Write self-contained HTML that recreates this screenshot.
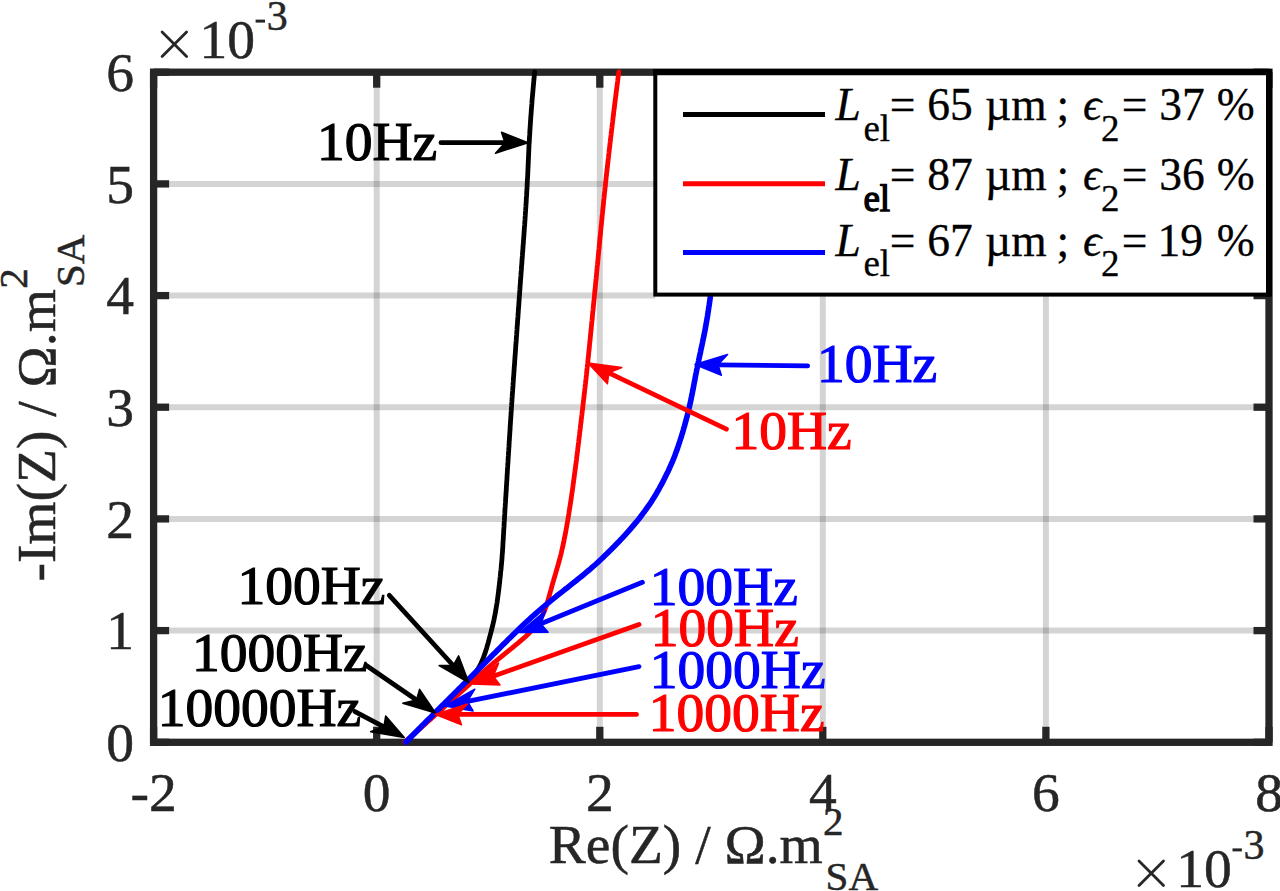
<!DOCTYPE html>
<html><head><meta charset="utf-8"><style>
html,body{margin:0;padding:0;background:#fff;width:1280px;height:891px;overflow:hidden}
svg{display:block}
text{font-family:"Liberation Serif",serif}
</style></head><body>
<svg width="1280" height="891" viewBox="0 0 1280 891"><rect width="100%" height="100%" fill="#fff"/><line x1="376.7" y1="72.2" x2="376.7" y2="742.3" stroke="#262626" stroke-width="6" stroke-opacity="0.2"/><line x1="599.8" y1="72.2" x2="599.8" y2="742.3" stroke="#262626" stroke-width="6" stroke-opacity="0.2"/><line x1="822.8" y1="72.2" x2="822.8" y2="742.3" stroke="#262626" stroke-width="6" stroke-opacity="0.2"/><line x1="1045.9" y1="72.2" x2="1045.9" y2="742.3" stroke="#262626" stroke-width="6" stroke-opacity="0.2"/><line x1="153.6" y1="630.6" x2="1269.0" y2="630.6" stroke="#262626" stroke-width="6" stroke-opacity="0.2"/><line x1="153.6" y1="518.9" x2="1269.0" y2="518.9" stroke="#262626" stroke-width="6" stroke-opacity="0.2"/><line x1="153.6" y1="407.2" x2="1269.0" y2="407.2" stroke="#262626" stroke-width="6" stroke-opacity="0.2"/><line x1="153.6" y1="295.6" x2="655.3" y2="295.6" stroke="#262626" stroke-width="6" stroke-opacity="0.2"/><line x1="153.6" y1="183.9" x2="1269.0" y2="183.9" stroke="#262626" stroke-width="6" stroke-opacity="0.2"/><line x1="153.6" y1="742.3" x2="153.6" y2="726.8" stroke="#262626" stroke-width="7.3"/><line x1="153.6" y1="72.2" x2="153.6" y2="87.7" stroke="#262626" stroke-width="7.3"/><line x1="376.7" y1="742.3" x2="376.7" y2="726.8" stroke="#262626" stroke-width="7.3"/><line x1="376.7" y1="72.2" x2="376.7" y2="87.7" stroke="#262626" stroke-width="7.3"/><line x1="599.8" y1="742.3" x2="599.8" y2="726.8" stroke="#262626" stroke-width="7.3"/><line x1="599.8" y1="72.2" x2="599.8" y2="87.7" stroke="#262626" stroke-width="7.3"/><line x1="822.8" y1="742.3" x2="822.8" y2="726.8" stroke="#262626" stroke-width="7.3"/><line x1="822.8" y1="72.2" x2="822.8" y2="87.7" stroke="#262626" stroke-width="7.3"/><line x1="1045.9" y1="742.3" x2="1045.9" y2="726.8" stroke="#262626" stroke-width="7.3"/><line x1="1045.9" y1="72.2" x2="1045.9" y2="87.7" stroke="#262626" stroke-width="7.3"/><line x1="1269.0" y1="742.3" x2="1269.0" y2="726.8" stroke="#262626" stroke-width="7.3"/><line x1="1269.0" y1="72.2" x2="1269.0" y2="87.7" stroke="#262626" stroke-width="7.3"/><line x1="153.6" y1="742.3" x2="169.1" y2="742.3" stroke="#262626" stroke-width="7.3"/><line x1="1269.0" y1="742.3" x2="1253.5" y2="742.3" stroke="#262626" stroke-width="7.3"/><line x1="153.6" y1="630.6" x2="169.1" y2="630.6" stroke="#262626" stroke-width="7.3"/><line x1="1269.0" y1="630.6" x2="1253.5" y2="630.6" stroke="#262626" stroke-width="7.3"/><line x1="153.6" y1="518.9" x2="169.1" y2="518.9" stroke="#262626" stroke-width="7.3"/><line x1="1269.0" y1="518.9" x2="1253.5" y2="518.9" stroke="#262626" stroke-width="7.3"/><line x1="153.6" y1="407.2" x2="169.1" y2="407.2" stroke="#262626" stroke-width="7.3"/><line x1="1269.0" y1="407.2" x2="1253.5" y2="407.2" stroke="#262626" stroke-width="7.3"/><line x1="153.6" y1="295.6" x2="169.1" y2="295.6" stroke="#262626" stroke-width="7.3"/><line x1="1269.0" y1="295.6" x2="1253.5" y2="295.6" stroke="#262626" stroke-width="7.3"/><line x1="153.6" y1="183.9" x2="169.1" y2="183.9" stroke="#262626" stroke-width="7.3"/><line x1="1269.0" y1="183.9" x2="1253.5" y2="183.9" stroke="#262626" stroke-width="7.3"/><line x1="153.6" y1="72.2" x2="169.1" y2="72.2" stroke="#262626" stroke-width="7.3"/><line x1="1269.0" y1="72.2" x2="1253.5" y2="72.2" stroke="#262626" stroke-width="7.3"/><rect x="153.6" y="72.2" width="1115.4" height="670.1" fill="none" stroke="#262626" stroke-width="7.3"/><path d="M406.0,742.0 L408.3,739.8 L410.6,737.5 L412.8,735.3 L415.1,733.0 L417.4,730.8 L419.7,728.6 L421.9,726.3 L424.2,724.1 L426.5,721.8 L428.8,719.6 L431.0,717.4 L433.3,715.1 L435.6,712.9 L437.9,710.6 L440.2,708.4 L442.6,706.1 L444.9,703.9 L447.3,701.7 L449.7,699.4 L452.1,697.2 L454.5,694.9 L456.9,692.7 L459.3,690.5 L461.6,688.2 L463.9,686.0 L466.1,683.7 L468.3,681.5 L470.3,679.3 L472.2,677.0 L473.9,674.8 L475.6,672.5 L477.1,670.3 L478.5,668.1 L479.8,665.8 L480.9,663.6 L481.9,661.3 L482.9,659.1 L483.7,656.8 L484.5,654.6 L485.3,652.4 L486.0,650.1 L486.7,647.9 L487.3,645.6 L488.0,643.4 L488.6,641.2 L489.2,638.9 L489.8,636.7 L490.4,634.4 L491.0,632.2 L491.6,630.0 L492.1,627.7 L492.7,625.5 L493.2,623.2 L493.7,621.0 L494.2,618.8 L494.6,616.5 L495.1,614.3 L495.5,612.0 L495.9,609.8 L496.2,607.6 L496.6,605.3 L497.0,603.1 L497.3,600.8 L497.6,598.6 L497.9,596.3 L498.2,594.1 L498.5,591.9 L498.8,589.6 L499.0,587.4 L499.3,585.1 L499.6,582.9 L499.8,580.7 L500.0,578.4 L500.3,576.2 L500.5,573.9 L500.7,571.7 L501.0,569.5 L501.2,567.2 L501.4,565.0 L501.6,562.7 L501.8,560.5 L502.0,558.3 L502.1,556.0 L502.3,553.8 L502.5,551.5 L502.6,549.3 L502.8,547.1 L502.9,544.8 L503.0,542.6 L503.2,540.3 L503.3,538.1 L503.4,535.8 L503.6,533.6 L503.7,531.4 L503.8,529.1 L504.0,526.9 L504.1,524.6 L504.2,522.4 L504.4,520.2 L504.5,517.9 L504.6,515.7 L504.8,513.4 L504.9,511.2 L505.0,509.0 L505.2,506.7 L505.3,504.5 L505.5,502.2 L505.6,500.0 L505.7,497.8 L505.9,495.5 L506.0,493.3 L506.2,491.0 L506.3,488.8 L506.4,486.5 L506.6,484.3 L506.7,482.1 L506.9,479.8 L507.0,477.6 L507.1,475.3 L507.3,473.1 L507.4,470.9 L507.5,468.6 L507.7,466.4 L507.8,464.1 L508.0,461.9 L508.1,459.7 L508.2,457.4 L508.4,455.2 L508.5,452.9 L508.7,450.7 L508.8,448.5 L509.0,446.2 L509.1,444.0 L509.2,441.7 L509.4,439.5 L509.5,437.3 L509.7,435.0 L509.8,432.8 L510.0,430.5 L510.1,428.3 L510.2,426.0 L510.4,423.8 L510.5,421.6 L510.7,419.3 L510.8,417.1 L511.0,414.8 L511.1,412.6 L511.3,410.4 L511.4,408.1 L511.6,405.9 L511.7,403.6 L511.9,401.4 L512.0,399.2 L512.2,396.9 L512.3,394.7 L512.5,392.4 L512.7,390.2 L512.8,388.0 L513.0,385.7 L513.1,383.5 L513.3,381.2 L513.4,379.0 L513.6,376.7 L513.8,374.5 L513.9,372.3 L514.1,370.0 L514.2,367.8 L514.4,365.5 L514.6,363.3 L514.7,361.1 L514.9,358.8 L515.0,356.6 L515.2,354.3 L515.4,352.1 L515.5,349.9 L515.7,347.6 L515.8,345.4 L516.0,343.1 L516.2,340.9 L516.3,338.7 L516.5,336.4 L516.7,334.2 L516.8,331.9 L517.0,329.7 L517.1,327.5 L517.3,325.2 L517.5,323.0 L517.6,320.7 L517.8,318.5 L518.0,316.2 L518.1,314.0 L518.3,311.8 L518.4,309.5 L518.6,307.3 L518.8,305.0 L518.9,302.8 L519.1,300.6 L519.2,298.3 L519.4,296.1 L519.6,293.8 L519.7,291.6 L519.9,289.4 L520.0,287.1 L520.2,284.9 L520.4,282.6 L520.5,280.4 L520.7,278.2 L520.9,275.9 L521.0,273.7 L521.2,271.4 L521.4,269.2 L521.5,266.9 L521.7,264.7 L521.9,262.5 L522.0,260.2 L522.2,258.0 L522.4,255.7 L522.5,253.5 L522.7,251.3 L522.9,249.0 L523.0,246.8 L523.2,244.5 L523.4,242.3 L523.5,240.1 L523.7,237.8 L523.9,235.6 L524.0,233.3 L524.2,231.1 L524.3,228.9 L524.5,226.6 L524.7,224.4 L524.8,222.1 L525.0,219.9 L525.1,217.7 L525.3,215.4 L525.4,213.2 L525.6,210.9 L525.7,208.7 L525.9,206.4 L526.0,204.2 L526.2,202.0 L526.3,199.7 L526.4,197.5 L526.6,195.2 L526.7,193.0 L526.8,190.8 L527.0,188.5 L527.1,186.3 L527.2,184.0 L527.3,181.8 L527.4,179.6 L527.6,177.3 L527.7,175.1 L527.8,172.8 L527.9,170.6 L528.0,168.4 L528.1,166.1 L528.2,163.9 L528.3,161.6 L528.4,159.4 L528.5,157.2 L528.6,154.9 L528.7,152.7 L528.8,150.4 L528.9,148.2 L529.0,145.9 L529.1,143.7 L529.3,141.5 L529.4,139.2 L529.5,137.0 L529.7,134.7 L529.8,132.5 L529.9,130.3 L530.1,128.0 L530.2,125.8 L530.4,123.5 L530.5,121.3 L530.7,119.1 L530.8,116.8 L531.0,114.6 L531.2,112.3 L531.3,110.1 L531.5,107.9 L531.7,105.6 L531.9,103.4 L532.0,101.1 L532.2,98.9 L532.4,96.6 L532.6,94.4 L532.8,92.2 L533.0,89.9 L533.2,87.7 L533.4,85.4 L533.6,83.2 L533.8,81.0 L534.0,78.7 L534.2,76.5 L534.4,74.2 L534.6,72.0" fill="none" stroke="#000" stroke-width="4.8" stroke-linejoin="round" stroke-linecap="round"/><path d="M405.0,742.0 L407.5,739.8 L410.0,737.5 L412.6,735.3 L415.1,733.0 L417.6,730.8 L420.1,728.6 L422.6,726.3 L425.1,724.1 L427.6,721.8 L430.1,719.6 L432.6,717.4 L435.1,715.1 L437.6,712.9 L440.2,710.6 L442.7,708.4 L445.2,706.1 L447.6,703.9 L450.1,701.7 L452.6,699.4 L455.1,697.2 L457.6,694.9 L460.1,692.7 L462.6,690.5 L465.1,688.2 L467.6,686.0 L470.0,683.7 L472.5,681.5 L475.0,679.3 L477.5,677.0 L480.0,674.8 L482.5,672.5 L485.1,670.3 L487.7,668.1 L490.3,665.8 L492.9,663.6 L495.6,661.3 L498.3,659.1 L501.1,656.8 L503.8,654.6 L506.6,652.4 L509.4,650.1 L512.2,647.9 L514.9,645.6 L517.7,643.4 L520.3,641.2 L522.9,638.9 L525.4,636.7 L527.8,634.4 L530.1,632.2 L532.2,630.0 L534.1,627.7 L536.0,625.5 L537.7,623.2 L539.2,621.0 L540.6,618.8 L541.8,616.5 L543.0,614.3 L544.0,612.0 L544.9,609.8 L545.7,607.6 L546.5,605.3 L547.2,603.1 L547.9,600.8 L548.5,598.6 L549.1,596.3 L549.7,594.1 L550.3,591.9 L551.0,589.6 L551.6,587.4 L552.2,585.1 L552.8,582.9 L553.5,580.7 L554.1,578.4 L554.8,576.2 L555.5,573.9 L556.1,571.7 L556.8,569.5 L557.4,567.2 L558.1,565.0 L558.7,562.7 L559.3,560.5 L559.9,558.3 L560.5,556.0 L561.1,553.8 L561.6,551.5 L562.1,549.3 L562.6,547.1 L563.1,544.8 L563.6,542.6 L564.0,540.3 L564.5,538.1 L564.9,535.8 L565.4,533.6 L565.8,531.4 L566.2,529.1 L566.6,526.9 L567.0,524.6 L567.4,522.4 L567.8,520.2 L568.1,517.9 L568.5,515.7 L568.9,513.4 L569.2,511.2 L569.6,509.0 L569.9,506.7 L570.3,504.5 L570.6,502.2 L571.0,500.0 L571.3,497.8 L571.6,495.5 L571.9,493.3 L572.3,491.0 L572.6,488.8 L572.9,486.5 L573.2,484.3 L573.5,482.1 L573.8,479.8 L574.1,477.6 L574.4,475.3 L574.7,473.1 L575.0,470.9 L575.3,468.6 L575.6,466.4 L575.9,464.1 L576.2,461.9 L576.5,459.7 L576.7,457.4 L577.0,455.2 L577.3,452.9 L577.6,450.7 L577.8,448.5 L578.1,446.2 L578.4,444.0 L578.7,441.7 L578.9,439.5 L579.2,437.3 L579.5,435.0 L579.7,432.8 L580.0,430.5 L580.3,428.3 L580.5,426.0 L580.8,423.8 L581.1,421.6 L581.3,419.3 L581.6,417.1 L581.9,414.8 L582.1,412.6 L582.4,410.4 L582.7,408.1 L582.9,405.9 L583.2,403.6 L583.4,401.4 L583.7,399.2 L584.0,396.9 L584.2,394.7 L584.5,392.4 L584.7,390.2 L585.0,388.0 L585.2,385.7 L585.5,383.5 L585.7,381.2 L586.0,379.0 L586.2,376.7 L586.5,374.5 L586.7,372.3 L586.9,370.0 L587.2,367.8 L587.4,365.5 L587.7,363.3 L587.9,361.1 L588.1,358.8 L588.4,356.6 L588.6,354.3 L588.8,352.1 L589.1,349.9 L589.3,347.6 L589.5,345.4 L589.7,343.1 L590.0,340.9 L590.2,338.7 L590.4,336.4 L590.6,334.2 L590.9,331.9 L591.1,329.7 L591.3,327.5 L591.5,325.2 L591.7,323.0 L592.0,320.7 L592.2,318.5 L592.4,316.2 L592.6,314.0 L592.8,311.8 L593.1,309.5 L593.3,307.3 L593.5,305.0 L593.7,302.8 L594.0,300.6 L594.2,298.3 L594.4,296.1 L594.6,293.8 L594.8,291.6 L595.1,289.4 L595.3,287.1 L595.5,284.9 L595.7,282.6 L595.9,280.4 L596.2,278.2 L596.4,275.9 L596.6,273.7 L596.8,271.4 L597.0,269.2 L597.2,266.9 L597.5,264.7 L597.7,262.5 L597.9,260.2 L598.1,258.0 L598.3,255.7 L598.5,253.5 L598.7,251.3 L599.0,249.0 L599.2,246.8 L599.4,244.5 L599.6,242.3 L599.8,240.1 L600.0,237.8 L600.3,235.6 L600.5,233.3 L600.7,231.1 L600.9,228.9 L601.1,226.6 L601.4,224.4 L601.6,222.1 L601.8,219.9 L602.0,217.7 L602.2,215.4 L602.5,213.2 L602.7,210.9 L602.9,208.7 L603.2,206.4 L603.4,204.2 L603.6,202.0 L603.8,199.7 L604.1,197.5 L604.3,195.2 L604.5,193.0 L604.8,190.8 L605.0,188.5 L605.3,186.3 L605.5,184.0 L605.7,181.8 L606.0,179.6 L606.2,177.3 L606.5,175.1 L606.7,172.8 L607.0,170.6 L607.2,168.4 L607.5,166.1 L607.7,163.9 L608.0,161.6 L608.2,159.4 L608.5,157.2 L608.7,154.9 L609.0,152.7 L609.2,150.4 L609.5,148.2 L609.8,145.9 L610.0,143.7 L610.3,141.5 L610.5,139.2 L610.8,137.0 L611.1,134.7 L611.3,132.5 L611.6,130.3 L611.9,128.0 L612.1,125.8 L612.4,123.5 L612.7,121.3 L612.9,119.1 L613.2,116.8 L613.5,114.6 L613.7,112.3 L614.0,110.1 L614.3,107.9 L614.6,105.6 L614.8,103.4 L615.1,101.1 L615.4,98.9 L615.7,96.6 L616.0,94.4 L616.2,92.2 L616.5,89.9 L616.8,87.7 L617.1,85.4 L617.4,83.2 L617.7,81.0 L617.9,78.7 L618.2,76.5 L618.5,74.2 L618.8,72.0" fill="none" stroke="#ff0000" stroke-width="4.8" stroke-linejoin="round" stroke-linecap="round"/><path d="M406.0,742.0 L408.2,739.8 L410.4,737.5 L412.6,735.3 L414.9,733.0 L417.1,730.8 L419.3,728.6 L421.5,726.3 L423.8,724.1 L426.0,721.8 L428.2,719.6 L430.5,717.4 L432.7,715.1 L434.9,712.9 L437.2,710.6 L439.4,708.4 L441.6,706.1 L443.9,703.9 L446.1,701.7 L448.4,699.4 L450.6,697.2 L452.9,694.9 L455.1,692.7 L457.4,690.5 L459.6,688.2 L461.9,686.0 L464.1,683.7 L466.4,681.5 L468.6,679.3 L470.9,677.0 L473.1,674.8 L475.4,672.5 L477.6,670.3 L479.8,668.1 L482.1,665.8 L484.3,663.6 L486.5,661.3 L488.8,659.1 L491.0,656.8 L493.2,654.6 L495.4,652.4 L497.7,650.1 L499.9,647.9 L502.1,645.6 L504.3,643.4 L506.6,641.2 L508.8,638.9 L511.1,636.7 L513.4,634.4 L515.7,632.2 L518.0,630.0 L520.3,627.7 L522.6,625.5 L525.0,623.2 L527.4,621.0 L529.9,618.8 L532.3,616.5 L534.8,614.3 L537.4,612.0 L540.0,609.8 L542.6,607.6 L545.3,605.3 L548.0,603.1 L550.7,600.8 L553.5,598.6 L556.3,596.3 L559.2,594.1 L562.0,591.9 L564.8,589.6 L567.7,587.4 L570.5,585.1 L573.3,582.9 L576.1,580.7 L578.9,578.4 L581.7,576.2 L584.5,573.9 L587.1,571.7 L589.8,569.5 L592.4,567.2 L594.9,565.0 L597.4,562.7 L599.8,560.5 L602.2,558.3 L604.5,556.0 L606.8,553.8 L609.1,551.5 L611.4,549.3 L613.6,547.1 L615.8,544.8 L618.0,542.6 L620.1,540.3 L622.2,538.1 L624.3,535.8 L626.3,533.6 L628.3,531.4 L630.3,529.1 L632.2,526.9 L634.1,524.6 L636.0,522.4 L637.8,520.2 L639.6,517.9 L641.3,515.7 L643.0,513.4 L644.7,511.2 L646.3,509.0 L647.9,506.7 L649.5,504.5 L651.0,502.2 L652.4,500.0 L653.8,497.8 L655.2,495.5 L656.5,493.3 L657.8,491.0 L659.1,488.8 L660.3,486.5 L661.5,484.3 L662.7,482.1 L663.9,479.8 L665.0,477.6 L666.1,475.3 L667.2,473.1 L668.3,470.9 L669.3,468.6 L670.3,466.4 L671.3,464.1 L672.3,461.9 L673.2,459.7 L674.1,457.4 L675.0,455.2 L675.8,452.9 L676.6,450.7 L677.4,448.5 L678.2,446.2 L678.9,444.0 L679.7,441.7 L680.4,439.5 L681.1,437.3 L681.8,435.0 L682.5,432.8 L683.2,430.5 L683.8,428.3 L684.5,426.0 L685.1,423.8 L685.7,421.6 L686.3,419.3 L686.9,417.1 L687.5,414.8 L688.1,412.6 L688.6,410.4 L689.1,408.1 L689.6,405.9 L690.1,403.6 L690.6,401.4 L691.1,399.2 L691.5,396.9 L692.0,394.7 L692.4,392.4 L692.9,390.2 L693.3,388.0 L693.7,385.7 L694.1,383.5 L694.6,381.2 L695.0,379.0 L695.4,376.7 L695.8,374.5 L696.3,372.3 L696.7,370.0 L697.2,367.8 L697.6,365.5 L698.1,363.3 L698.6,361.1 L699.0,358.8 L699.5,356.6 L700.0,354.3 L700.5,352.1 L700.9,349.9 L701.4,347.6 L701.9,345.4 L702.4,343.1 L702.8,340.9 L703.3,338.7 L703.8,336.4 L704.2,334.2 L704.7,331.9 L705.1,329.7 L705.5,327.5 L705.9,325.2 L706.3,323.0 L706.7,320.7 L707.1,318.5 L707.5,316.2 L707.8,314.0 L708.2,311.8 L708.5,309.5 L708.8,307.3 L709.2,305.0 L709.5,302.8 L709.8,300.6 L710.1,298.3 L710.4,296.1 L710.7,293.8 L710.9,291.6 L711.2,289.4 L711.5,287.1 L711.8,284.9 L712.0,282.6 L712.3,280.4 L712.5,278.2 L712.8,275.9 L713.0,273.7 L713.2,271.4 L713.5,269.2 L713.7,266.9 L714.0,264.7 L714.2,262.5 L714.4,260.2 L714.6,258.0 L714.8,255.7 L715.1,253.5 L715.3,251.3 L715.5,249.0 L715.7,246.8 L715.9,244.5 L716.1,242.3 L716.3,240.1 L716.5,237.8 L716.8,235.6 L717.0,233.3 L717.2,231.1 L717.4,228.9 L717.6,226.6 L717.8,224.4 L718.0,222.1 L718.2,219.9 L718.4,217.7 L718.6,215.4 L718.8,213.2 L719.0,210.9 L719.2,208.7 L719.4,206.4 L719.6,204.2 L719.9,202.0 L720.1,199.7 L720.3,197.5 L720.5,195.2 L720.7,193.0 L720.9,190.8 L721.2,188.5 L721.4,186.3 L721.6,184.0 L721.8,181.8 L722.1,179.6 L722.3,177.3 L722.5,175.1 L722.8,172.8 L723.0,170.6 L723.2,168.4 L723.5,166.1 L723.7,163.9 L724.0,161.6 L724.2,159.4 L724.4,157.2 L724.7,154.9 L724.9,152.7 L725.2,150.4 L725.4,148.2 L725.7,145.9 L725.9,143.7 L726.1,141.5 L726.4,139.2 L726.6,137.0 L726.9,134.7 L727.1,132.5 L727.4,130.3 L727.6,128.0 L727.9,125.8 L728.1,123.5 L728.4,121.3 L728.6,119.1 L728.9,116.8 L729.1,114.6 L729.4,112.3 L729.6,110.1 L729.9,107.9 L730.1,105.6 L730.4,103.4 L730.6,101.1 L730.9,98.9 L731.2,96.6 L731.4,94.4 L731.7,92.2 L731.9,89.9 L732.2,87.7 L732.4,85.4 L732.7,83.2 L733.0,81.0 L733.2,78.7 L733.5,76.5 L733.7,74.2 L734.0,72.0" fill="none" stroke="#0000ff" stroke-width="5.6" stroke-linejoin="round" stroke-linecap="round"/><rect x="655.3" y="71.0" width="613.7" height="223.6" fill="#fff" stroke="#000" stroke-width="4"/><line x1="653.3" y1="72.2" x2="1272.0" y2="72.2" stroke="#000" stroke-width="6"/><line x1="1269.0" y1="72.2" x2="1269.0" y2="296.6" stroke="#000" stroke-width="6"/><line x1="683.0" y1="114.5" x2="825.0" y2="114.5" stroke="#000" stroke-width="5"/><line x1="683.0" y1="183.7" x2="825.0" y2="183.7" stroke="#ff0000" stroke-width="5"/><line x1="683.0" y1="252.4" x2="825.0" y2="252.4" stroke="#0000ff" stroke-width="5"/><text x="835.6" y="120.2" font-size="45.5" fill="#000" stroke="#000" stroke-width="0.3" text-anchor="start" font-style="italic">L</text><text x="863.4" y="141.0" font-size="37" fill="#000" stroke="#000" stroke-width="0.3" text-anchor="start" >el</text><text x="889.7" y="120.2" font-size="45.5" fill="#000" stroke="#000" stroke-width="0.3" text-anchor="start" >=</text><text x="927.3" y="120.2" font-size="45.5" fill="#000" stroke="#000" stroke-width="0.3" text-anchor="start" >65</text><text x="985.0" y="120.2" font-size="45.5" fill="#000" stroke="#000" stroke-width="0.3" text-anchor="start" >µm</text><text x="1056.5" y="120.2" font-size="45.5" fill="#000" stroke="#000" stroke-width="0.3" text-anchor="start" >;</text><text x="1083.1" y="120.2" font-size="45.5" fill="#000" stroke="#000" stroke-width="0.3" text-anchor="start" font-style="italic">ϵ</text><text x="1100.9" y="141.0" font-size="37" fill="#000" stroke="#000" stroke-width="0.3" text-anchor="start" >2</text><text x="1121.8" y="120.2" font-size="45.5" fill="#000" stroke="#000" stroke-width="0.3" text-anchor="start" >=</text><text x="1159.3" y="120.2" font-size="45.5" fill="#000" stroke="#000" stroke-width="0.3" text-anchor="start" >37</text><text x="1216.8" y="120.2" font-size="45.5" fill="#000" stroke="#000" stroke-width="0.3" text-anchor="start" >%</text><text x="835.6" y="189.9" font-size="45.5" fill="#000" stroke="#000" stroke-width="0.3" text-anchor="start" font-style="italic">L</text><text x="863.4" y="210.7" font-size="37" fill="#000" stroke="#000" stroke-width="1.3" text-anchor="start" >el</text><text x="889.7" y="189.9" font-size="45.5" fill="#000" stroke="#000" stroke-width="0.3" text-anchor="start" >=</text><text x="927.3" y="189.9" font-size="45.5" fill="#000" stroke="#000" stroke-width="0.3" text-anchor="start" >87</text><text x="985.0" y="189.9" font-size="45.5" fill="#000" stroke="#000" stroke-width="0.3" text-anchor="start" >µm</text><text x="1056.5" y="189.9" font-size="45.5" fill="#000" stroke="#000" stroke-width="0.3" text-anchor="start" >;</text><text x="1083.1" y="189.9" font-size="45.5" fill="#000" stroke="#000" stroke-width="0.3" text-anchor="start" font-style="italic">ϵ</text><text x="1100.9" y="210.7" font-size="37" fill="#000" stroke="#000" stroke-width="0.3" text-anchor="start" >2</text><text x="1121.8" y="189.9" font-size="45.5" fill="#000" stroke="#000" stroke-width="0.3" text-anchor="start" >=</text><text x="1159.3" y="189.9" font-size="45.5" fill="#000" stroke="#000" stroke-width="0.3" text-anchor="start" >36</text><text x="1216.8" y="189.9" font-size="45.5" fill="#000" stroke="#000" stroke-width="0.3" text-anchor="start" >%</text><text x="835.6" y="255.6" font-size="45.5" fill="#000" stroke="#000" stroke-width="0.3" text-anchor="start" font-style="italic">L</text><text x="863.4" y="276.4" font-size="37" fill="#000" stroke="#000" stroke-width="0.3" text-anchor="start" >el</text><text x="889.7" y="255.6" font-size="45.5" fill="#000" stroke="#000" stroke-width="0.3" text-anchor="start" >=</text><text x="927.3" y="255.6" font-size="45.5" fill="#000" stroke="#000" stroke-width="0.3" text-anchor="start" >67</text><text x="985.0" y="255.6" font-size="45.5" fill="#000" stroke="#000" stroke-width="0.3" text-anchor="start" >µm</text><text x="1056.5" y="255.6" font-size="45.5" fill="#000" stroke="#000" stroke-width="0.3" text-anchor="start" >;</text><text x="1083.1" y="255.6" font-size="45.5" fill="#000" stroke="#000" stroke-width="0.3" text-anchor="start" font-style="italic">ϵ</text><text x="1100.9" y="276.4" font-size="37" fill="#000" stroke="#000" stroke-width="0.3" text-anchor="start" >2</text><text x="1121.8" y="255.6" font-size="45.5" fill="#000" stroke="#000" stroke-width="0.3" text-anchor="start" >=</text><text x="1157.5" y="255.6" font-size="45.5" fill="#000" stroke="#000" stroke-width="0.3" text-anchor="start" >19</text><text x="1216.8" y="255.6" font-size="45.5" fill="#000" stroke="#000" stroke-width="0.3" text-anchor="start" >%</text><line x1="441.0" y1="142.7" x2="505.0" y2="142.7" stroke="#000" stroke-width="4.8" stroke-linecap="round"/><polygon points="528.0,142.7 495.5,153.2 505.0,142.7 501.5,132.2" fill="#000" stroke="#000" stroke-width="1.5" stroke-linejoin="round"/><line x1="726.4" y1="429.2" x2="608.8" y2="372.8" stroke="#ff0000" stroke-width="4.8" stroke-linecap="round"/><polygon points="588.0,362.9 621.8,367.5 608.8,372.8 607.4,383.8" fill="#ff0000" stroke="#ff0000" stroke-width="1.5" stroke-linejoin="round"/><line x1="807.6" y1="365.9" x2="718.0" y2="364.8" stroke="#0000ff" stroke-width="4.8" stroke-linecap="round"/><polygon points="695.0,364.5 727.6,354.4 718.0,364.8 721.4,375.3" fill="#0000ff" stroke="#0000ff" stroke-width="1.5" stroke-linejoin="round"/><line x1="389.3" y1="595.3" x2="453.2" y2="665.5" stroke="#000" stroke-width="4.8" stroke-linecap="round"/><polygon points="468.7,682.5 439.1,665.5 453.2,665.5 458.6,655.8" fill="#000" stroke="#000" stroke-width="1.5" stroke-linejoin="round"/><line x1="366.0" y1="665.3" x2="416.5" y2="700.0" stroke="#000" stroke-width="4.8" stroke-linecap="round"/><polygon points="435.5,713.0 402.8,703.3 416.5,700.0 419.6,689.3" fill="#000" stroke="#000" stroke-width="1.5" stroke-linejoin="round"/><line x1="355.0" y1="711.6" x2="383.9" y2="726.8" stroke="#000" stroke-width="4.8" stroke-linecap="round"/><polygon points="404.3,737.5 370.6,731.7 383.9,726.8 385.7,715.9" fill="#000" stroke="#000" stroke-width="1.5" stroke-linejoin="round"/><line x1="642.4" y1="582.3" x2="540.9" y2="623.8" stroke="#0000ff" stroke-width="4.8" stroke-linecap="round"/><polygon points="519.6,632.5 545.7,610.5 540.9,623.8 548.1,632.2" fill="#0000ff" stroke="#0000ff" stroke-width="1.5" stroke-linejoin="round"/><line x1="639.0" y1="624.4" x2="493.2" y2="676.2" stroke="#ff0000" stroke-width="4.8" stroke-linecap="round"/><polygon points="471.5,683.9 498.6,663.1 493.2,676.2 500.0,684.9" fill="#ff0000" stroke="#ff0000" stroke-width="1.5" stroke-linejoin="round"/><line x1="639.0" y1="666.6" x2="467.5" y2="701.4" stroke="#0000ff" stroke-width="4.8" stroke-linecap="round"/><polygon points="445.0,706.0 474.8,689.2 467.5,701.4 473.1,711.0" fill="#0000ff" stroke="#0000ff" stroke-width="1.5" stroke-linejoin="round"/><line x1="636.5" y1="714.4" x2="458.0" y2="714.4" stroke="#ff0000" stroke-width="4.8" stroke-linecap="round"/><polygon points="435.0,714.4 467.5,703.9 458.0,714.4 461.5,724.9" fill="#ff0000" stroke="#ff0000" stroke-width="1.5" stroke-linejoin="round"/><text x="153.6" y="810.8" font-size="55.5" fill="#262626" stroke="#262626" stroke-width="0.5" text-anchor="middle" >-2</text><text x="376.7" y="810.8" font-size="55.5" fill="#262626" stroke="#262626" stroke-width="0.5" text-anchor="middle" >0</text><text x="599.8" y="810.8" font-size="55.5" fill="#262626" stroke="#262626" stroke-width="0.5" text-anchor="middle" >2</text><text x="822.8" y="810.8" font-size="55.5" fill="#262626" stroke="#262626" stroke-width="0.5" text-anchor="middle" >4</text><text x="1045.9" y="810.8" font-size="55.5" fill="#262626" stroke="#262626" stroke-width="0.5" text-anchor="middle" >6</text><text x="1269.0" y="810.8" font-size="55.5" fill="#262626" stroke="#262626" stroke-width="0.5" text-anchor="middle" >8</text><text x="134.0" y="760.9" font-size="55.5" fill="#262626" stroke="#262626" stroke-width="0.5" text-anchor="end" >0</text><text x="134.0" y="649.2" font-size="55.5" fill="#262626" stroke="#262626" stroke-width="0.5" text-anchor="end" >1</text><text x="134.0" y="537.5" font-size="55.5" fill="#262626" stroke="#262626" stroke-width="0.5" text-anchor="end" >2</text><text x="134.0" y="425.9" font-size="55.5" fill="#262626" stroke="#262626" stroke-width="0.5" text-anchor="end" >3</text><text x="134.0" y="314.2" font-size="55.5" fill="#262626" stroke="#262626" stroke-width="0.5" text-anchor="end" >4</text><text x="134.0" y="202.5" font-size="55.5" fill="#262626" stroke="#262626" stroke-width="0.5" text-anchor="end" >5</text><text x="134.0" y="90.8" font-size="55.5" fill="#262626" stroke="#262626" stroke-width="0.5" text-anchor="end" >6</text><line x1="162.1" y1="32.1" x2="186.6" y2="56.6" stroke="#262626" stroke-width="2.8" stroke-linecap="round"/><line x1="162.1" y1="56.6" x2="186.6" y2="32.1" stroke="#262626" stroke-width="2.8" stroke-linecap="round"/><text x="199.4" y="58.1" font-size="55.5" fill="#262626" stroke="#262626" stroke-width="0.5" text-anchor="start" >10</text><rect x="255.6" y="19.6" width="9.4" height="3" fill="#262626"/><text x="266.7" y="30.1" font-size="42" fill="#262626" stroke="#262626" stroke-width="0.5" text-anchor="start" >3</text><line x1="1139.0" y1="860.9" x2="1163.5" y2="885.4" stroke="#262626" stroke-width="2.8" stroke-linecap="round"/><line x1="1139.0" y1="885.4" x2="1163.5" y2="860.9" stroke="#262626" stroke-width="2.8" stroke-linecap="round"/><text x="1176.3" y="886.9" font-size="55.5" fill="#262626" stroke="#262626" stroke-width="0.5" text-anchor="start" >10</text><rect x="1232.5" y="848.4" width="9.4" height="3" fill="#262626"/><text x="1243.6" y="858.9" font-size="42" fill="#262626" stroke="#262626" stroke-width="0.5" text-anchor="start" >3</text><text x="316.9" y="160.0" font-size="55.5" fill="#000" stroke="#000" stroke-width="1.2" text-anchor="start" >10Hz</text><text x="816.9" y="381.7" font-size="55.5" fill="#0000ff" stroke="#0000ff" stroke-width="1.2" text-anchor="start" >10Hz</text><text x="731.5" y="449.2" font-size="55.5" fill="#ff0000" stroke="#ff0000" stroke-width="1.2" text-anchor="start" >10Hz</text><text x="237.5" y="604.4" font-size="55.5" fill="#000" stroke="#000" stroke-width="1.2" text-anchor="start" >100Hz</text><text x="192.0" y="671.1" font-size="55.5" fill="#000" stroke="#000" stroke-width="1.2" text-anchor="start" >1000Hz</text><text x="157.7" y="725.6" font-size="55.5" fill="#000" stroke="#000" stroke-width="1.2" text-anchor="start" >10000Hz</text><text x="649.8" y="605.4" font-size="55.5" fill="#0000ff" stroke="#0000ff" stroke-width="1.2" text-anchor="start" >100Hz</text><text x="650.8" y="645.8" font-size="55.5" fill="#ff0000" stroke="#ff0000" stroke-width="1.2" text-anchor="start" >100Hz</text><text x="649.8" y="688.2" font-size="55.5" fill="#0000ff" stroke="#0000ff" stroke-width="1.2" text-anchor="start" >1000Hz</text><text x="648.8" y="730.6" font-size="55.5" fill="#ff0000" stroke="#ff0000" stroke-width="1.2" text-anchor="start" >1000Hz</text><text x="548.8" y="862.5" font-size="55.5" fill="#262626" stroke="#262626" stroke-width="0.5" text-anchor="start" >Re(Z) / Ω.m</text><text x="823.0" y="835.2" font-size="41" fill="#262626" stroke="#262626" stroke-width="0.5" text-anchor="start" >2</text><text x="825.6" y="890.2" font-size="41" fill="#262626" stroke="#262626" stroke-width="0.5" text-anchor="start" >SA</text><g transform="translate(54.7,581.6) rotate(-90)"><text x="0.0" y="0.0" font-size="55.5" fill="#262626" stroke="#262626" stroke-width="0.5" text-anchor="start" >-Im(Z) / Ω.m</text><text x="292.8" y="-27.4" font-size="41" fill="#262626" stroke="#262626" stroke-width="0.5" text-anchor="start" >2</text><text x="294.6" y="28.8" font-size="41" fill="#262626" stroke="#262626" stroke-width="0.5" text-anchor="start" >SA</text></g></svg>
</body></html>
